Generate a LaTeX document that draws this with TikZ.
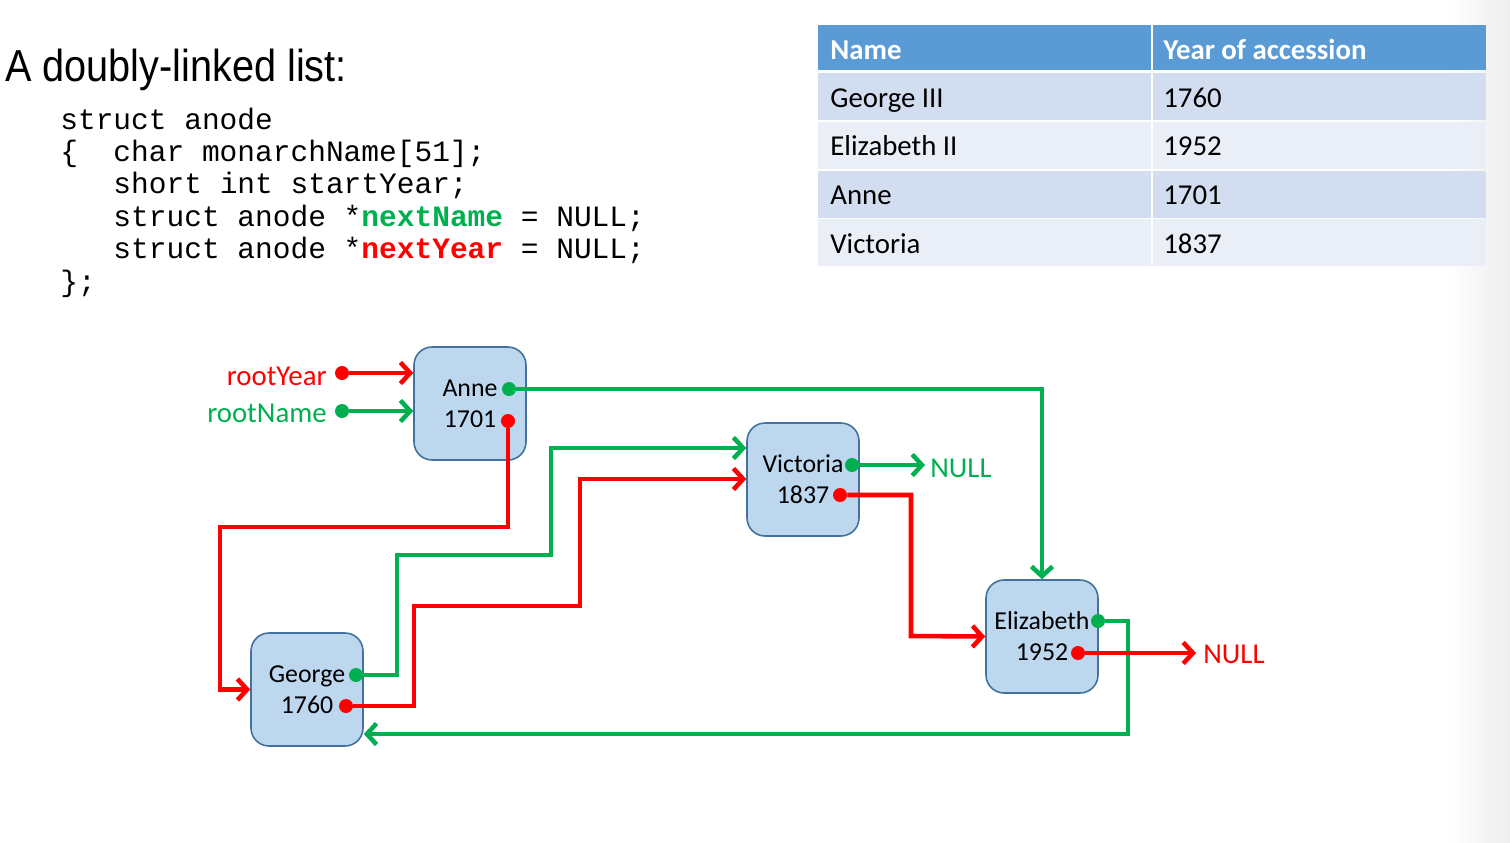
\documentclass[tikz,border=0pt]{standalone}
\usepackage{fontspec}
\setmainfont{Carlito}
\setmonofont{Liberation Mono}
\newfontfamily\titlefont{Liberation Sans}
\usepackage{tikz}
\usetikzlibrary{positioning,arrows.meta,calc}
\definecolor{lnkgreen}{HTML}{00B050}
\definecolor{lnkred}{HTML}{FF0000}
\definecolor{boxfill}{HTML}{BDD7EE}
\definecolor{boxline}{HTML}{41719C}
\definecolor{headblue}{HTML}{5B9BD5}
\definecolor{rowdark}{HTML}{D2DEEF}
\definecolor{rowlight}{HTML}{EAEFF7}

\begin{document}
\begin{tikzpicture}[
    x=0.02cm, y=-0.02cm,
    monarch/.style={draw=boxline, fill=boxfill, line width=0.9pt, rounded corners=0.36cm,
        minimum width=2.24cm, minimum height=2.26cm, align=center,
        font=\fontsize{14.7}{17.6}\selectfont},
    gdot/.style={circle, fill=lnkgreen, inner sep=0, minimum size=0.28cm},
    rdot/.style={circle, fill=lnkred, inner sep=0, minimum size=0.28cm},
    link/.style={line width=2.6pt, -{Straight Barb[length=5.5pt,width=12pt]}},
    glink/.style={link, draw=lnkgreen},
    rlink/.style={link, draw=lnkred},
    lbl/.style={inner sep=0, font=\fontsize{16.4}{19.7}\selectfont},
    code/.style={anchor=base west, inner sep=0, font=\ttfamily\fontsize{16.8}{18.4}\selectfont},
    cell/.style={lbl, anchor=base west}
]
    \useasboundingbox (0,0) rectangle (1510,842);
    \shade[left color=white, right color=black!7] (1450,0) rectangle (1510,842);

    % title and struct
    \node[anchor=base west, inner sep=0, font=\titlefont\fontsize{25.5}{30}\selectfont]
        (title) at (5,81) {\scalebox{0.885}[1]{A doubly-linked list:}};
    \foreach \txt [count=\i from 0] in {
        {struct~anode},
        {\{~~char~monarchName[51];},
        {~~~short~int~startYear;},
        {~~~struct~anode~*\textcolor{lnkgreen}{\textbf{nextName}}~=~NULL;},
        {~~~struct~anode~*\textcolor{lnkred}{\textbf{nextYear}}~=~NULL;},
        {\};}}
        \node[code] (code\i) at (60,{129+32.4*\i}) {\txt};

    % table
    \fill[headblue] (818,25) rectangle (1486,70);
    \foreach \y/\c in {73/rowdark, 122/rowlight, 171/rowdark, 219/rowlight}
        \fill[\c] (818,\y) rectangle (1486,\y+46.5);
    \draw[white, line width=1.5pt] (1152,25) -- (1152,265);
    \node[cell, text=white, font=\bfseries\fontsize{16.4}{19.7}\selectfont] (hname) at (830,59) {Name};
    \node[cell, text=white, font=\bfseries\fontsize{16.4}{19.7}\selectfont] (hyear) at (1163,59) {Year of accession};
    \foreach \nm/\yr [count=\i from 0] in {George III/1760, Elizabeth II/1952, Anne/1701, Victoria/1837} {
        \node[cell] (tname\i) at (830,{107+48.7*\i}) {\nm};
        \node[cell] (tyear\i) at (1163,{107+48.7*\i}) {\yr};
    }

    % list nodes
    \node[monarch] (anne) at (470,403.5) {Anne\\1701};
    \node[monarch] (vic) at (803,479.5) {Victoria\\1837};
    \node[monarch] (george) at (307,689.5) {George\\1760};
    \node[monarch] (eliz) at (1042,636.5) {Elizabeth\\1952};

    \node[gdot] (anneN) at (509,389) {};
    \node[rdot] (anneY) at (508,421) {};
    \node[gdot] (vicN) at (852,465) {};
    \node[rdot] (vicY) at (840,495) {};
    \node[gdot] (georgeN) at (356,675) {};
    \node[rdot] (georgeY) at (346,706) {};
    \node[gdot] (elizN) at (1098,621) {};
    \node[rdot] (elizY) at (1078,653) {};

    % roots and NULLs
    \node[lbl, anchor=east, text=lnkred] (rootyear) at (327,376) {rootYear};
    \node[lbl, anchor=east, text=lnkgreen] (rootname) at (327,413) {rootName};
    \node[rdot] (rY) at (342,373) {};
    \node[gdot] (rN) at (342,411) {};
    \node[lbl, anchor=west, text=lnkgreen] (vicnull) at (930,468) {NULL};
    \node[lbl, anchor=west, text=lnkred] (elizull) at (1203,654) {NULL};

    \draw[rlink] (rY) -- (anne.west |- rY);
    \draw[glink] (rN) -- (anne.west |- rN);
    \draw[glink] (anneN) -| (eliz.north);
    \draw[rlink] (anneY) |- (220,527) |- (george.west);
    \draw[glink] (georgeN) -| (397,555) -| (551,448) -- (vic.west |- 0,448);
    \draw[rlink] (georgeY) -| (414,606) -| (580,479) -- (vic.west |- 0,479);
    \draw[glink] (vicN) -- ($(vicnull.west |- vicN)+(-5,0)$);
    \draw[rlink] (vicY) -| (911,636) -- (eliz.west);
    \draw[glink] (elizN) -| (1128,734) -- (george.east |- 0,734);
    \draw[rlink] (elizY) -- ($(elizull.west |- elizY)+(-7,0)$);
\end{tikzpicture}
\end{document}
